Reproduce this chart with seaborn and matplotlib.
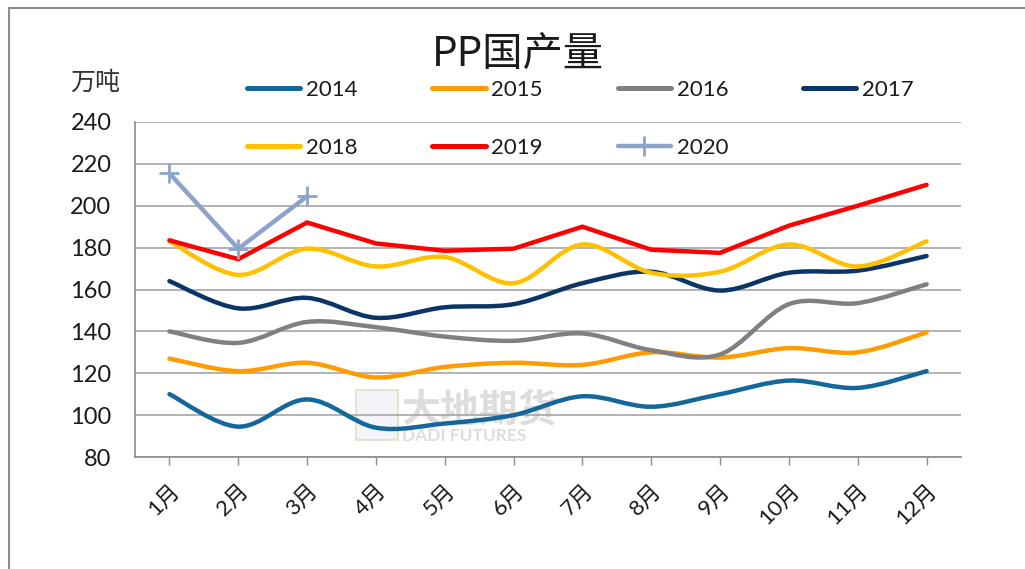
import numpy as np
import pandas as pd
import matplotlib
matplotlib.use("Agg")
import matplotlib.pyplot as plt
import seaborn as sns
from matplotlib.path import Path
from matplotlib.patches import PathPatch, Rectangle
from matplotlib.lines import Line2D

months = ["1月", "2月", "3月", "4月", "5月", "6月", "7月", "8月", "9月", "10月", "11月", "12月"]
y2014 = [110, 94.5, 107.5, 94, 96, 100, 109, 104, 110, 116.5, 113, 121]
y2015 = [127, 121, 125, 118, 123, 125, 124, 130, 127.5, 132, 130, 139.5]
y2016 = [140, 134.5, 144.5, 142, 137.5, 135.5, 139, 131, 129, 153, 153.5, 162.5]
y2017 = [164, 151, 156, 146.5, 151.5, 153, 163, 168.5, 159.5, 168, 169, 176]
y2018 = [183, 167, 179.5, 171, 175.5, 163, 181.5, 168, 168.5, 181.5, 171, 183]
y2019 = [183.5, 174.5, 192, 182, 178.5, 179.5, 190, 179, 177.5, 190.5, 200, 210]
y2020 = [215.5, 179.5, 204.5]
yticks = [80, 100, 120, 140, 160, 180, 200, 220, 240]

colors = {
    "2014": "#13679a",
    "2015": "#ff9c00",
    "2016": "#808080",
    "2017": "#0a3566",
    "2018": "#ffc000",
    "2019": "#ff0000",
    "2020": "#8da3cc",
}

sns.set_theme(style="white")
plt.rcParams["font.family"] = ["Lato", "Noto Sans CJK SC", "DejaVu Sans"]
text_color = "#1a1a1a"
cjk = ["Noto Sans CJK SC", "DejaVu Sans"]

fig = plt.figure(figsize=(10.25, 5.69), dpi=100)
ax = fig.add_axes([135 / 1025, 1 - 457 / 569, (961 - 135) / 1025, (457 - 122) / 569])
ax.set_zorder(1)
ax.patch.set_alpha(0)

x = np.arange(len(months))


def smooth_path(xs, ys):
    pts = np.column_stack([xs, ys]).astype(float)
    n = len(pts)
    verts = [pts[0]]
    codes = [Path.MOVETO]
    for i in range(n - 1):
        p0 = pts[i - 1] if i > 0 else pts[i]
        p1 = pts[i]
        p2 = pts[i + 1]
        p3 = pts[i + 2] if i + 2 < n else pts[i + 1]
        c1 = p1 + (p2 - p0) / 6.0
        c2 = p2 - (p3 - p1) / 6.0
        verts += [c1, c2, p2]
        codes += [Path.CURVE4] * 3
    return Path(verts, codes)


# watermark (behind the data)
fig.add_artist(Rectangle((356 / 1025, 1 - 440 / 569), 42 / 1025, 50 / 569,
                         transform=fig.transFigure, facecolor="#e6ebf2", edgecolor="#d6cba8",
                         lw=1.5, alpha=0.5, zorder=0))
fig.text(402 / 1025, 1 - 410 / 569, "大地期货", ha="left", va="center", fontsize=28,
         color="#8f8f8f", alpha=0.3, fontweight="bold", family=cjk, zorder=0)
fig.text(402 / 1025, 1 - 436 / 569, "DADI FUTURES", ha="left", va="center", fontsize=12.5,
         color="#8f8f8f", alpha=0.3, fontweight="bold", zorder=0)

smooth_series = [("2014", y2014), ("2015", y2015), ("2016", y2016), ("2017", y2017), ("2018", y2018)]
for name, ys in smooth_series:
    patch = PathPatch(smooth_path(x, ys), facecolor="none", edgecolor=colors[name],
                      lw=3.2, capstyle="round", joinstyle="round", zorder=3)
    ax.add_patch(patch)

df19 = pd.DataFrame({"x": x, "y": y2019})
sns.lineplot(data=df19, x="x", y="y", ax=ax, color=colors["2019"], lw=3.2, legend=False,
             zorder=4, solid_capstyle="round", solid_joinstyle="miter")
df20 = pd.DataFrame({"x": x[:len(y2020)], "y": y2020})
sns.lineplot(data=df20, x="x", y="y", ax=ax, color=colors["2020"], lw=3.2, legend=False,
             marker="+", markersize=14, markeredgewidth=2, markeredgecolor=colors["2020"],
             zorder=5)

ax.set_xlim(-0.5, 11.5)
ax.set_ylim(80, 240)
ax.set_yticks(yticks)
ax.set_yticklabels([str(v) for v in yticks], fontsize=17, color=text_color)
ax.set_xticks(x)
ax.set_xticklabels(months, fontsize=16, color=text_color, rotation=45, ha="right",
                   va="top", rotation_mode="anchor")
ax.set_xlabel("")
ax.set_ylabel("")
ax.grid(axis="y", color="#a6a6a6", lw=1.2)
ax.grid(axis="x", visible=False)
ax.set_axisbelow(True)
for s in ["top", "right"]:
    ax.spines[s].set_visible(False)
for s in ["left", "bottom"]:
    ax.spines[s].set_color("#8c8c8c")
    ax.spines[s].set_linewidth(1.2)
ax.tick_params(axis="y", length=0, pad=17)
ax.tick_params(axis="x", length=6, width=1, color="#8c8c8c", direction="out", pad=11, bottom=True)

# title and unit
fig.text(518 / 1025, 1 - 55 / 569, "PP国产量", ha="center", va="center", fontsize=29,
         color=text_color, family=cjk)
fig.text(95 / 1025, 1 - 83 / 569, "万吨", ha="center", va="center", fontsize=18,
         color="#333333", family=cjk)

# legend (row-major order for 4 columns)
order = ["2014", "2018", "2015", "2019", "2016", "2020", "2017"]
handles = []
for lab in order:
    if lab == "2020":
        h = Line2D([], [], color=colors[lab], lw=3.2, marker="+", markersize=14,
                   markeredgewidth=2)
    else:
        h = Line2D([], [], color=colors[lab], lw=3.6, solid_capstyle="round")
    handles.append(h)

leg = fig.legend(handles, order, loc="upper left", bbox_to_anchor=(247 / 1025, 1 - 80 / 569),
                 ncol=4, frameon=False, fontsize=16, handlelength=2.4, handletextpad=0.25,
                 columnspacing=3.37, labelspacing=1.7, borderpad=0, borderaxespad=0)
leg.set_zorder(6)
for t in leg.get_texts():
    t.set_color(text_color)

# outer frame (top and left lines)
fig.add_artist(Line2D([9 / 1025, 9 / 1025], [0, 1 - 8 / 569], transform=fig.transFigure,
                      color="#8c8c8c", lw=1.5))
fig.add_artist(Line2D([9 / 1025, 1], [1 - 8 / 569, 1 - 8 / 569], transform=fig.transFigure,
                      color="#8c8c8c", lw=1.5))

fig.savefig("out.png", dpi=100)
